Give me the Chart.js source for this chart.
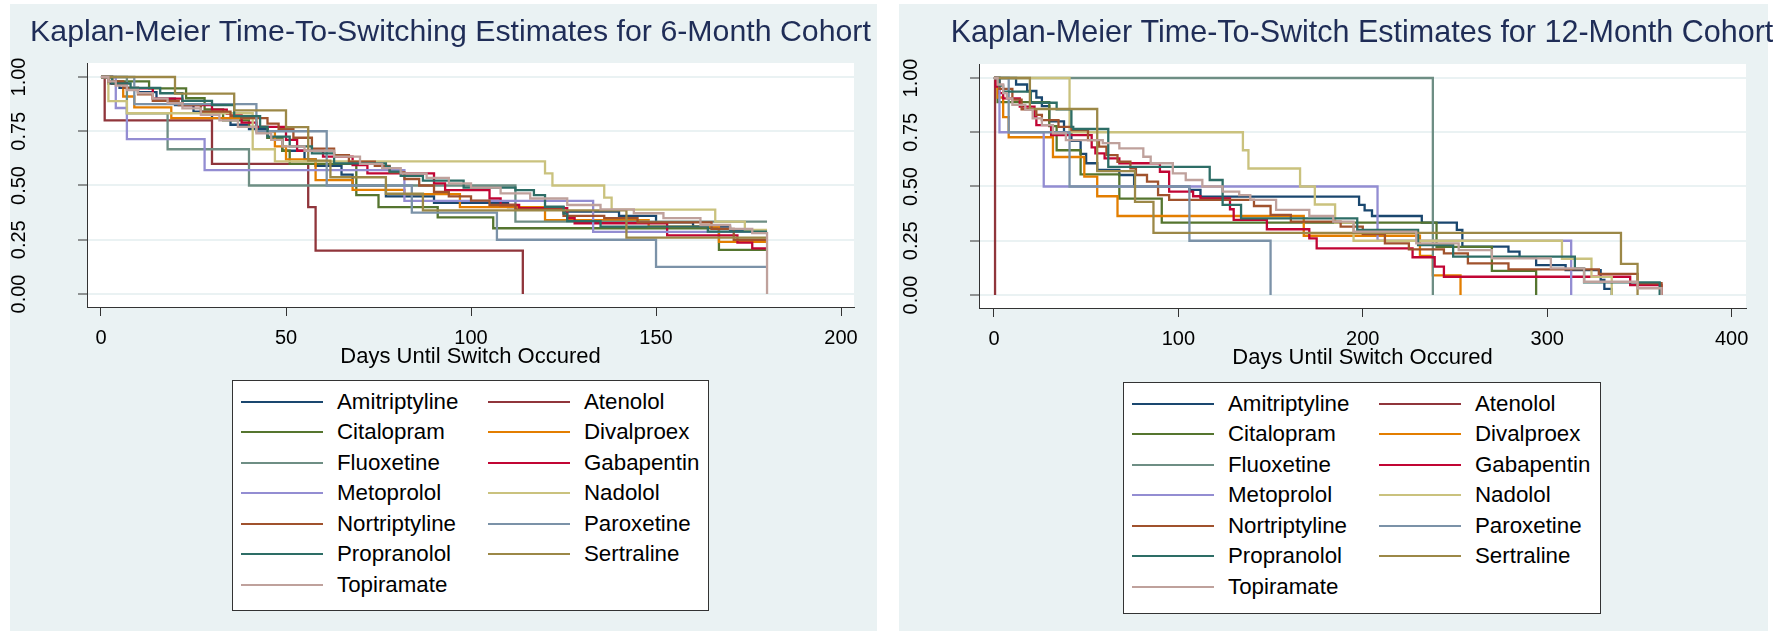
<!DOCTYPE html>
<html>
<head>
<meta charset="utf-8">
<script src="https://cdn.jsdelivr.net/npm/chart.js@4.4.1/dist/chart.umd.min.js"></script>
<style>
  body { margin: 0; width: 1792px; height: 631px; overflow: hidden; background: #fff; position: relative;
         font-family: "Liberation Sans", Arial, sans-serif; }
  .panel { position: absolute; background: #eaf2f3; }
  canvas { position: absolute; }
  .legend { position: absolute; background: #fff; border: 1px solid #333; box-sizing: border-box; }
  .legend .item { position: absolute; height: 30px; display: flex; align-items: center; font-size: 22.3px; color: #000; white-space: nowrap; }
  .legend .swatch { display: inline-block; width: 82px; height: 2px; margin-right: 14px; }
</style>
</head>
<body>
<div class="panel" style="left:10px; top:4px; width:867px; height:627px;"></div>
<div class="panel" style="left:899px; top:4px; width:869px; height:627px;"></div>
<canvas id="km6" width="901" height="631" style="left:0px; top:0px;"></canvas>
<canvas id="km12" width="940" height="631" style="left:892px; top:1px;"></canvas>
<div class="legend" id="legend6" style="left:232px; top:380px; width:477px; height:231px;"></div>
<div class="legend" id="legend12" style="left:1123px; top:382px; width:478px; height:232px;"></div>

<script>
const drugNames = ["Amitriptyline", "Atenolol", "Citalopram", "Divalproex", "Fluoxetine", "Gabapentin",
  "Metoprolol", "Nadolol", "Nortriptyline", "Paroxetine", "Propranolol", "Sertraline", "Topiramate"];
const drugColors = ["#1a476f", "#90353b", "#55752f", "#e37e00", "#6e8e84", "#c10534",
  "#938dd2", "#cac27e", "#a0522d", "#7b92a8", "#2d6d66", "#9c8847", "#bfa19c"];

const xTicks6 = [0, 50, 100, 150, 200];
const xTicks12 = [0, 100, 200, 300, 400];
const yTicks = [0, 0.25, 0.5, 0.75, 1];

// 6-month cohort: [day, survival]
const amitriptyline6 = [[0,1],[2,0.97],[5,0.95],[10,0.93],[15,0.9],[20,0.87],[25,0.84],[30,0.81],[35,0.78],[40,0.76],[45,0.72],[49,0.66],[55,0.62],[58,0.59],[65,0.55],[68,0.5],[77,0.45],[90,0.42],[110,0.4],[125,0.38],[140,0.36],[150,0.33],[160,0.31],[170,0.29],[180,0.29]];
const atenolol6 = [[0,1],[1,0.8],[30,0.6],[56,0.4],[58,0.2],[114,0]];
const citalopram6 = [[0,1],[3,0.98],[13,0.948],[23,0.902],[28,0.851],[33,0.8],[40,0.77],[45,0.72],[49,0.66],[51,0.6],[69,0.456],[75,0.4],[91,0.353],[106,0.303],[167,0.203],[180,0.203]];
const divalproex6 = [[0,1],[3,0.97],[6,0.91],[9,0.86],[19,0.81],[42,0.75],[47,0.68],[50,0.62],[58,0.525],[68,0.48],[82,0.46],[97,0.4],[120,0.34],[148,0.31],[167,0.24],[180,0.24]];
const fluoxetine6 = [[0,1],[7,0.833],[18,0.667],[40,0.5],[112,0.333],[180,0.333]];
const gabapentin6 = [[0,1],[3,0.97],[7,0.948],[14,0.9],[22,0.87],[30,0.85],[34,0.83],[38,0.79],[42,0.77],[50,0.71],[53,0.66],[60,0.633],[68,0.594],[72,0.556],[90,0.51],[93,0.479],[105,0.44],[108,0.41],[113,0.395],[126,0.35],[128,0.326],[153,0.27],[172,0.237],[176,0.21],[180,0.21]];
const metoprolol6 = [[0,1],[4,0.857],[7,0.714],[28,0.571],[82,0.429],[133,0.286],[180,0.286]];
const nadolol6 = [[0,1],[2,0.889],[7,0.833],[41,0.667],[47,0.611],[120,0.556],[122,0.5],[136,0.444],[138,0.389],[166,0.333],[174,0.295],[180,0.295]];
const nortriptyline6 = [[0,1],[2,0.98],[6,0.95],[10,0.92],[14,0.89],[21,0.87],[27,0.84],[35,0.82],[38,0.81],[45,0.785],[48,0.76],[52,0.72],[57,0.67],[63,0.64],[67,0.61],[74,0.59],[78,0.56],[82,0.53],[86,0.5],[90,0.47],[94,0.45],[100,0.43],[105,0.41],[112,0.39],[125,0.36],[136,0.35],[145,0.33],[165,0.3],[171,0.25],[180,0.25]];
const paroxetine6 = [[0,1],[9,0.875],[42,0.75],[61,0.5],[84,0.375],[107,0.25],[150,0.125],[180,0.125]];
const propranolol6 = [[0,1],[3,0.97],[8,0.95],[16,0.925],[22,0.89],[30,0.87],[36,0.82],[43,0.77],[45,0.725],[51,0.68],[57,0.648],[63,0.602],[77,0.587],[78,0.564],[81,0.544],[87,0.522],[98,0.49],[112,0.479],[117,0.456],[120,0.402],[125,0.37],[126,0.336],[135,0.31],[164,0.287],[180,0.287]];
const sertraline6 = [[0,1],[20,0.923],[36,0.846],[50,0.769],[56,0.615],[62,0.538],[77,0.462],[87,0.385],[142,0.26],[180,0.26]];
const topiramate6 = [[0,1],[2,0.98],[4,0.96],[7,0.94],[10,0.925],[14,0.9],[18,0.88],[22,0.855],[27,0.825],[32,0.8],[37,0.77],[42,0.74],[46,0.71],[49,0.68],[55,0.66],[63,0.633],[70,0.6],[76,0.58],[81,0.556],[88,0.535],[94,0.51],[100,0.49],[108,0.464],[116,0.44],[126,0.41],[135,0.39],[144,0.372],[152,0.35],[162,0.318],[170,0.3],[176,0.28],[180,0]];

// 12-month cohort: [day, survival]
const amitriptyline12 = [[0,1],[12,0.97],[18,0.94],[23,0.91],[26,0.87],[30,0.8],[38,0.75],[42,0.71],[47,0.65],[50,0.607],[56,0.576],[68,0.553],[76,0.5],[106,0.484],[112,0.453],[198,0.415],[201,0.39],[205,0.364],[232,0.333],[251,0.3],[254,0.223],[279,0.2],[285,0.174],[294,0.138],[310,0.115],[329,0.069],[331,0.028],[335,0]];
const atenolol12 = [[0,1],[0.6,0]];
const citalopram12 = [[0,1],[2,0.889],[30,0.778],[34,0.667],[47,0.556],[68,0.444],[91,0.333],[240,0.222],[270,0.111],[294,0]];
const divalproex12 = [[0,1],[2,0.91],[5,0.82],[8,0.727],[32,0.636],[49,0.545],[56,0.455],[67,0.364],[168,0.273],[231,0.18],[238,0.09],[253,0]];
const fluoxetine12 = [[0,1],[238,0]];
const gabapentin12 = [[0,1],[1,0.96],[3,0.93],[5,0.906],[14,0.868],[22,0.82],[23,0.783],[31,0.737],[53,0.68],[55,0.653],[60,0.63],[68,0.607],[90,0.568],[95,0.476],[108,0.455],[112,0.445],[128,0.395],[130,0.346],[148,0.303],[171,0.261],[175,0.215],[227,0.174],[239,0.131],[244,0.084],[345,0.046],[362,0]];
const metoprolol12 = [[0,1],[3,0.75],[27,0.5],[208,0.25],[313,0]];
const nadolol12 = [[0,1],[41,0.75],[135,0.667],[138,0.583],[166,0.5],[174,0.417],[185,0.333],[195,0.25],[308,0.167],[324,0.083],[335,0]];
const nortriptyline12 = [[0,1],[3,0.95],[10,0.9],[15,0.856],[23,0.83],[26,0.806],[35,0.775],[42,0.76],[51,0.714],[57,0.684],[61,0.645],[67,0.614],[74,0.584],[77,0.553],[83,0.522],[89,0.46],[95,0.438],[141,0.41],[150,0.369],[161,0.338],[188,0.315],[200,0.28],[212,0.238],[225,0.21],[244,0.192],[257,0.146],[279,0.118],[328,0.097],[349,0.054],[362,0]];
const paroxetine12 = [[0,1],[8,0.75],[41,0.5],[106,0.25],[150,0]];
const propranolol12 = [[0,1],[3,0.965],[5,0.937],[20,0.886],[34,0.856],[42,0.775],[43,0.765],[62,0.59],[117,0.53],[124,0.415],[134,0.353],[197,0.3],[230,0.23],[249,0.177],[315,0.123],[320,0.058],[361,0]];
const sertraline12 = [[0,1],[19.5,0.857],[56,0.571],[76.5,0.429],[86.5,0.286],[340,0.143],[349,0]];
const topiramate12 = [[0,1],[2,0.97],[5,0.93],[7,0.906],[10,0.876],[17,0.853],[21,0.814],[26,0.783],[32,0.745],[39,0.714],[59,0.7],[68,0.676],[81,0.637],[85,0.607],[97,0.56],[104,0.53],[113,0.5],[124,0.476],[133,0.46],[139,0.438],[153,0.392],[171,0.364],[184,0.338],[195,0.292],[229,0.238],[252,0.207],[270,0.169],[302,0.123],[320,0.061],[349,0.031],[362,0]];

const series6 = [amitriptyline6, atenolol6, citalopram6, divalproex6, fluoxetine6, gabapentin6,
  metoprolol6, nadolol6, nortriptyline6, paroxetine6, propranolol6, sertraline6, topiramate6];
const series12 = [amitriptyline12, atenolol12, citalopram12, divalproex12, fluoxetine12, gabapentin12,
  metoprolol12, nadolol12, nortriptyline12, paroxetine12, propranolol12, sertraline12, topiramate12];

Chart.defaults.font.family = '"Liberation Sans", Arial, sans-serif';

// white plot region like Stata's plotregion
const plotBackground = {
  id: "plotBackground",
  beforeDraw(chart) {
    const a = chart.chartArea;
    chart.ctx.save();
    chart.ctx.fillStyle = "#ffffff";
    chart.ctx.fillRect(a.left, a.top, a.right - a.left, a.bottom - a.top);
    chart.ctx.restore();
  },
};

// rightGap: empty strip right of the plot, so the centred title lands where Stata put it
function buildChart(canvasId, seriesList, xTicks, xMin, xMax, titleText, titleSize, rightGap) {
  const ctx = document.getElementById(canvasId).getContext("2d");
  return new Chart(ctx, {
    type: "line",
    data: {
      datasets: seriesList.map((pts, i) => ({
        label: drugNames[i],
        data: pts.map((p) => ({ x: p[0], y: p[1] })),
        borderColor: drugColors[i],
        borderWidth: 2.3,
        stepped: true,
        pointRadius: 0,
        fill: false,
        order: drugNames.length - i,
      })),
    },
    options: {
      responsive: false,
      animation: false,
      events: [],
      layout: { padding: { left: 0, right: 0, top: 0, bottom: 265 } },
      plugins: {
        legend: { display: false },
        tooltip: { enabled: false },
        title: {
          display: true,
          text: titleText,
          color: "#1f2d57",
          font: { size: titleSize, weight: "normal", lineHeight: 1.2 },
          padding: { top: 14, bottom: 63 - 14 - titleSize * 1.2 },
        },
      },
      scales: {
        x: {
          type: "linear",
          min: xMin,
          max: xMax,
          afterBuildTicks: (axis) => { axis.ticks = xTicks.map((v) => ({ value: v })); },
          afterFit: (scale) => { scale.height = 59; },
          grid: { drawOnChartArea: false, tickLength: 9, tickColor: "#333", tickWidth: 1 },
          border: { color: "#333", width: 1 },
          ticks: { color: "#000", font: { size: 20 }, padding: 10, maxRotation: 0, autoSkip: false },
          title: {
            display: true,
            text: "Days Until Switch Occured",
            color: "#000",
            font: { size: 22, lineHeight: 1 },
            padding: { top: -4, bottom: -2 },
          },
        },
        y: {
          type: "linear",
          min: -0.06,
          max: 1.0645,
          afterBuildTicks: (axis) => { axis.ticks = yTicks.map((v) => ({ value: v })); },
          afterFit: (scale) => { scale.width = 87; },
          grid: { color: "#eaf2f3", lineWidth: 2, tickLength: 9, tickColor: "#333", tickWidth: 1 },
          border: { color: "#333", width: 1 },
          ticks: {
            color: "#000",
            font: { size: 20 },
            padding: 39,
            minRotation: 90,
            maxRotation: 90,
            crossAlign: "center",
            callback: (v) => Number(v).toFixed(2),
          },
        },
        gap: {
          type: "linear",
          position: "right",
          min: 0,
          max: 1,
          afterFit: (scale) => { scale.width = rightGap; },
          grid: { display: false },
          border: { display: false },
          ticks: { display: false },
        },
      },
    },
    plugins: [plotBackground],
  });
}

function buildLegend(legendId, chart) {
  const box = document.getElementById(legendId);
  chart.data.datasets.forEach((ds, i) => {
    const item = document.createElement("div");
    item.className = "item";
    item.style.left = 8 + (i % 2) * 247 + "px";
    item.style.top = 5.8 + Math.floor(i / 2) * 30.5 + "px";
    const sw = document.createElement("span");
    sw.className = "swatch";
    sw.style.background = ds.borderColor;
    const tx = document.createElement("span");
    tx.textContent = ds.label;
    item.appendChild(sw);
    item.appendChild(tx);
    box.appendChild(item);
  });
}

document.addEventListener("DOMContentLoaded", function () {
  const chart6 = buildChart("km6", series6, xTicks6, -3.78, 203.5,
    "Kaplan-Meier Time-To-Switching Estimates for 6-Month Cohort", 30.3, 47);
  const chart12 = buildChart("km12", series12, xTicks12, -8.1, 407.8,
    "Kaplan-Meier Time-To-Switch Estimates for 12-Month Cohort", 30.5, 86);
  buildLegend("legend6", chart6);
  buildLegend("legend12", chart12);
});
</script>
</body>
</html>
